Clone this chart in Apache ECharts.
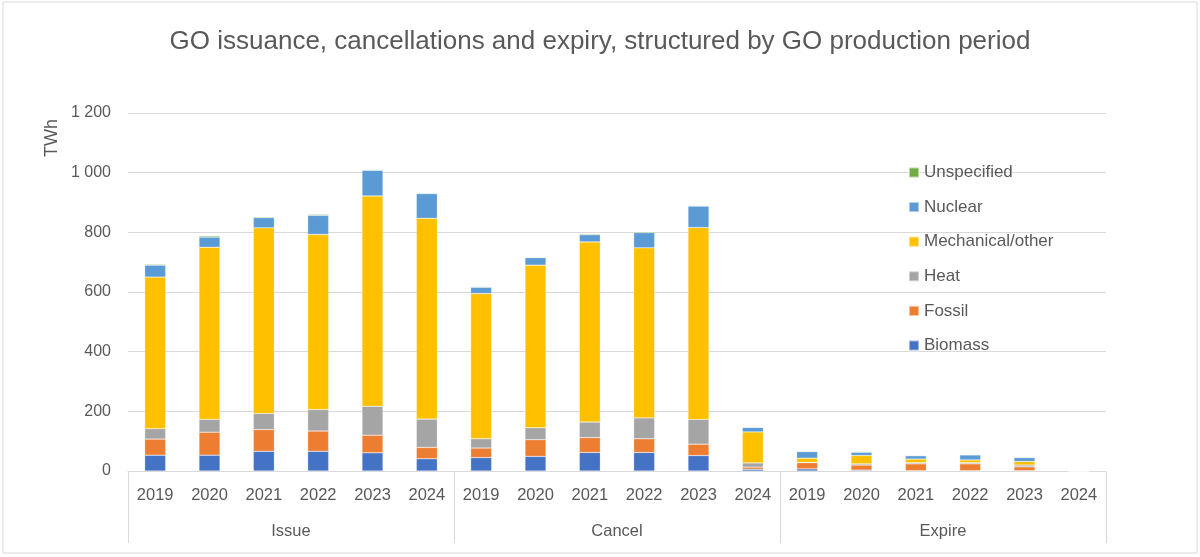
<!DOCTYPE html>
<html>
<head>
<meta charset="utf-8">
<script src="https://cdn.jsdelivr.net/npm/echarts@6/dist/echarts.min.js"></script>
<style>
  html, body { margin: 0; padding: 0; background: #fff; }
  #chart { width: 1200px; height: 557px; }
</style>
</head>
<body>
<div id="chart"></div>
<script>
// categories: 3 groups x 6 production years
var groups = ['Issue', 'Cancel', 'Expire'];
var years = ['2019', '2020', '2021', '2022', '2023', '2024'];
var yTicks = [0, 200, 400, 600, 800, 1000, 1200];

// TWh (Issue 2019..2024, Cancel 2019..2024, Expire 2019..2024)
var biomass     = [53, 53, 66, 66, 61, 41,   45, 49, 62, 62, 52, 6,    7, 3, 1, 1, 1, 0];
var fossil      = [54, 77, 73, 68, 59, 38,   32, 56, 50, 46, 38, 7,    21, 17, 23, 23, 13, 0];
var heat        = [35, 43, 54, 72, 97, 95,   31, 40, 52, 70, 83, 14,   1, 4, 4, 4, 6, 0];
var mechanical  = [508, 577, 622, 587, 705, 673, 487, 545, 604, 570, 643, 104, 14, 28, 12, 9, 12, 0];
var nuclear     = [40, 34, 34, 64, 86, 83,   21, 25, 24, 51, 72, 15,   22, 11, 11, 17, 13, 0];
var unspecified = [3, 4, 3, 3, 2, 2,         2, 2, 3, 3, 2, 1,         2, 2, 2, 1, 2, 0];

var seriesDefs = [
  { name: 'Biomass', data: biomass, color: '#4472C4' },
  { name: 'Fossil', data: fossil, color: '#ED7D31' },
  { name: 'Heat', data: heat, color: '#A5A5A5' },
  { name: 'Mechanical/other', data: mechanical, color: '#FFC000' },
  { name: 'Nuclear', data: nuclear, color: '#5B9BD5' },
  { name: 'Unspecified', data: unspecified, color: '#70AD47' }
];

var yearCats = [];
groups.forEach(function (g) {
  years.forEach(function (y) { yearCats.push(y); });
});

var textColor = '#595959';
var lineColor = '#d9d9d9';
var font = '"Liberation Sans", Arial, sans-serif';

var chart = echarts.init(document.getElementById('chart'));

var option = {
  backgroundColor: '#fff',
  animation: false,
  textStyle: { fontFamily: font, color: textColor },
  title: {
    text: 'GO issuance, cancellations and expiry, structured by GO production period',
    left: 'center',
    top: 24,
    textStyle: { fontFamily: font, fontSize: 26, fontWeight: 'normal', color: textColor }
  },
  legend: {
    orient: 'vertical',
    left: 903,
    top: 159,
    itemWidth: 10,
    itemHeight: 10,
    itemGap: 17.6,
    icon: 'rect',
    selectedMode: false,
    data: seriesDefs.map(function (s) { return s.name; }).reverse(),
    textStyle: { fontFamily: font, fontSize: 17, lineHeight: 17, color: textColor }
  },
  grid: { left: 128, right: 94, top: 113, bottom: 86 },
  xAxis: [
    {
      type: 'category',
      data: yearCats,
      position: 'bottom',
      axisLine: { show: true, lineStyle: { color: lineColor, width: 1 } },
      axisTick: { show: false },
      axisLabel: { interval: 0, margin: 16, fontSize: 16.5, color: textColor, fontFamily: font }
    },
    {
      type: 'category',
      data: groups,
      position: 'bottom',
      axisLine: { show: false },
      axisTick: { show: true, length: 72, lineStyle: { color: lineColor, width: 1 } },
      axisLabel: { interval: 0, margin: 52, fontSize: 16.5, color: textColor, fontFamily: font }
    }
  ],
  yAxis: {
    type: 'value',
    min: yTicks[0],
    max: yTicks[yTicks.length - 1],
    interval: 200,
    axisLine: { show: false },
    axisTick: { show: false },
    splitLine: { lineStyle: { color: lineColor, width: 1 } },
    axisLabel: {
      margin: 17,
      fontSize: 16,
      color: textColor,
      fontFamily: font,
      formatter: function (v) {
        return String(v).replace(/\B(?=(\d{3})+(?!\d))/g, ' ');
      }
    }
  },
  graphic: [
    {
      type: 'text',
      x: 52,
      y: 138,
      rotation: Math.PI / 2,
      style: {
        text: 'TWh',
        fill: textColor,
        font: '18px ' + font,
        textAlign: 'center',
        textVerticalAlign: 'middle'
      }
    },
    {
      type: 'rect',
      shape: { x: 3, y: 2, width: 1194, height: 551 },
      style: { fill: 'none', stroke: lineColor, lineWidth: 1 },
      silent: true
    }
  ],
  series: seriesDefs.map(function (s) {
    return {
      name: s.name,
      type: 'bar',
      stack: 'total',
      xAxisIndex: 0,
      barWidth: 21,
      data: s.data,
      itemStyle: { color: s.color, borderColor: 'rgba(255,255,255,0.5)', borderWidth: 0.5 }
    };
  })
};

chart.setOption(option);
</script>
</body>
</html>
